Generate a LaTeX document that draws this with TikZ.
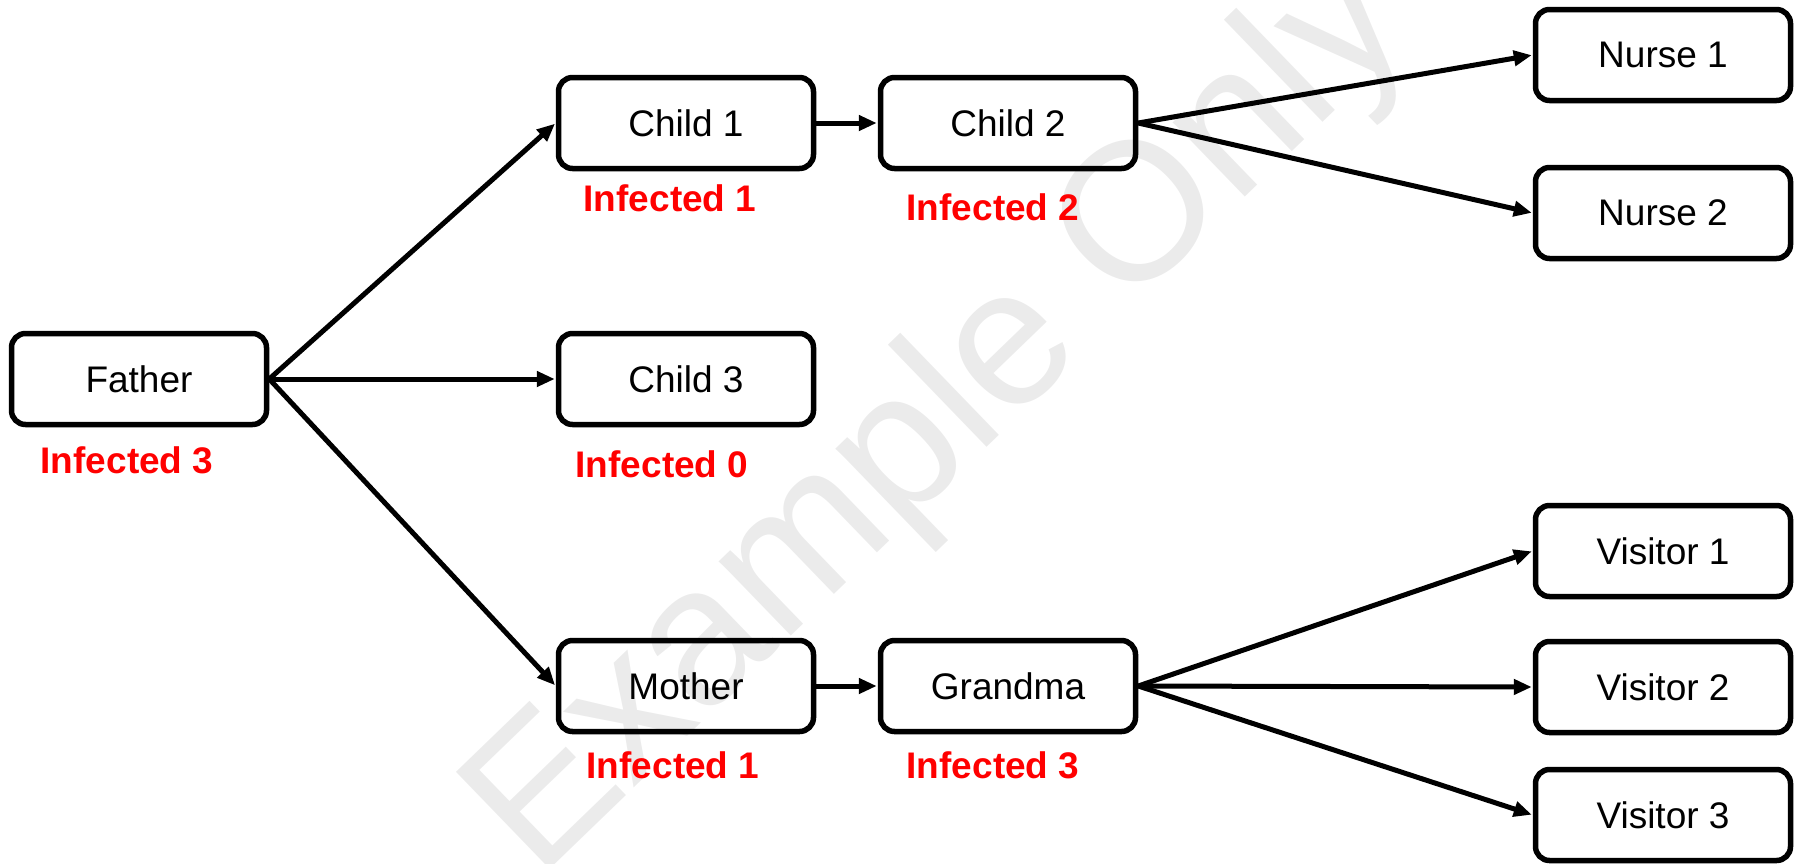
\documentclass[tikz,border=0pt]{standalone}
\usepackage{fontspec}
\setmainfont{Liberation Sans}
\usetikzlibrary{arrows.meta}
\definecolor{wm}{HTML}{EBEBEB}
\definecolor{infred}{HTML}{FF0000}
\tikzset{
  person/.style={draw=black, line width=5.5pt, rounded corners=14pt,
    minimum width=255pt, minimum height=91pt, inner sep=0pt,
    font=\fontsize{37}{41}\selectfont},
  inflabel/.style={text=infred, font=\fontsize{37}{41}\selectfont\bfseries, inner sep=0pt},
  link/.style={line width=5pt, -{Triangle[length=18pt,width=15pt]}, shorten >=1pt}
}
\begin{document}
\begin{tikzpicture}[x=1pt,y=-1pt]
\useasboundingbox (0,0) rectangle (1796,863);
\node[text=wm, rotate=44, font=\fontsize{196}{200}\selectfont, inner sep=0pt] (wmark) at (942,420) {Example Only};

\node[person] (father) at (139,379) {Father};
\node[person] (child1) at (686,123) {Child 1};
\node[person] (child2) at (1008,123) {Child 2};
\node[person] (child3) at (686,379) {Child 3};
\node[person] (mother) at (686,686) {Mother};
\node[person] (grandma) at (1008,686) {Grandma};
\node[person] (nurse1) at (1663,55) {Nurse 1};
\node[person] (nurse2) at (1663,213) {Nurse 2};
\node[person] (visitor1) at (1663,551) {Visitor 1};
\node[person] (visitor2) at (1663,687) {Visitor 2};
\node[person] (visitor3) at (1663,815) {Visitor 3};

\node[inflabel] (lfather) at (127,460) {Infected 3};
\node[inflabel] (lchild1) at (670,198) {Infected 1};
\node[inflabel] (lchild2) at (993,207) {Infected 2};
\node[inflabel] (lchild3) at (662,464) {Infected 0};
\node[inflabel] (lmother) at (673,765) {Infected 1};
\node[inflabel] (lgrandma) at (993,765) {Infected 3};

\draw[link] (father.east) -- (child1.west);
\draw[link] (father.east) -- (child3.west);
\draw[link] (father.east) -- (mother.west);
\draw[link] (child1.east) -- (child2.west);
\draw[link] (child2.east) -- (nurse1.west);
\draw[link] (child2.east) -- (nurse2.west);
\draw[link] (mother.east) -- (grandma.west);
\draw[link] (grandma.east) -- (visitor1.west);
\draw[link] (grandma.east) -- (visitor2.west);
\draw[link] (grandma.east) -- (visitor3.west);
\end{tikzpicture}
\end{document}
